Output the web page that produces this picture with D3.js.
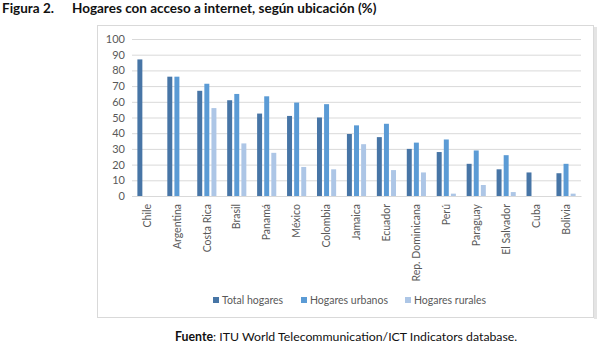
<!DOCTYPE html>
<html>
<head>
<meta charset="utf-8">
<script src="https://cdn.jsdelivr.net/npm/d3@7/dist/d3.min.js"></script>
<style>
  html, body { margin: 0; padding: 0; background: #fff; }
  svg { display: block; }
</style>
</head>
<body>
<svg id="chart" width="600" height="350"></svg>
<script>
// Hogares con acceso a internet por país (%)
const countries = ["Chile", "Argentina", "Costa Rica", "Brasil", "Panamá", "México", "Colombia",
  "Jamaica", "Ecuador", "Rep. Dominicana", "Perú", "Paraguay", "El Salvador", "Cuba", "Bolivia"];
const totalHogares   = [87, 76, 67, 61, 52.5, 51, 50, 39.5, 37.5, 30, 28, 20.5, 17, 15, 14.5];
const hogaresUrbanos = [null, 76, 71.5, 65, 63.5, 59.5, 58.5, 45, 46, 34, 36, 29, 26, null, 20.5];
const hogaresRurales = [null, null, 56, 33.5, 27.5, 18.5, 17, 33, 16.5, 15, 1.5, 7, 2.5, null, 1.5];
const seriesNames = ["Total hogares", "Hogares urbanos", "Hogares rurales"];
const yTicks = [0, 10, 20, 30, 40, 50, 60, 70, 80, 90, 100];

const colors = ["#4775A6", "#5B9BD5", "#ADC6E6"];
const series = [totalHogares, hogaresUrbanos, hogaresRurales];
const font = "Lato, 'Open Sans', sans-serif";

const svg = d3.select("#chart");

// Title
const title = svg.append("text").attr("x", 2).attr("y", 13)
  .attr("font-family", font).attr("font-weight", "bold").attr("font-size", 13.5).attr("fill", "#111");
title.append("tspan").text("Figura 2.");
title.append("tspan").attr("x", 72).text("Hogares con acceso a internet, según ubicación (%)");

// Chart frame with light shadow on the right
svg.append("rect").attr("x", 594).attr("y", 27).attr("width", 3).attr("height", 292).attr("fill", "#e4e4e4");
svg.append("rect").attr("x", 97.5).attr("y", 25.5).attr("width", 496).attr("height", 292)
  .attr("fill", "#fff").attr("stroke", "#d9d9d9").attr("stroke-width", 1);

const plot = { left: 132, right: 581, top: 39, bottom: 196 };

const x = d3.scaleBand().domain(countries).range([plot.left, plot.right]).paddingInner(0.36).paddingOuter(0.18);
const xs = d3.scaleBand().domain(d3.range(3)).range([0, x.bandwidth()]).paddingInner(0.3);
const y = d3.scaleLinear().domain([0, 100]).range([plot.bottom, plot.top]);

// Gridlines and y labels
const yAxis = d3.axisLeft(y).tickValues(yTicks).tickSize(-(plot.right - plot.left)).tickPadding(7);
const gy = svg.append("g").attr("transform", `translate(${plot.left},0)`).call(yAxis);
gy.select(".domain").remove();
gy.selectAll(".tick line").attr("stroke", "#d9d9d9").attr("stroke-width", 1);
gy.selectAll(".tick text").attr("font-family", font).attr("font-size", 11).attr("fill", "#595959");

// Bars
series.forEach((vals, si) => {
  svg.append("g").selectAll("rect")
    .data(countries.map((c, i) => ({ c, v: vals[i] })).filter(d => d.v != null))
    .join("rect")
    .attr("x", d => x(d.c) + xs(si))
    .attr("width", xs.bandwidth())
    .attr("y", d => y(d.v))
    .attr("height", d => y(0) - y(d.v))
    .attr("fill", colors[si]);
});

// X axis category labels
const xAxis = d3.axisBottom(x).tickSize(0).tickPadding(0);
const gx = svg.append("g").attr("transform", `translate(0,${plot.bottom})`).call(xAxis);
gx.select(".domain").attr("stroke", "#d9d9d9");
gx.selectAll(".tick text")
  .attr("font-family", font).attr("font-size", 10.5).attr("fill", "#595959")
  .attr("text-anchor", "end")
  .attr("transform", "rotate(-90)")
  .attr("x", -8).attr("y", 0).attr("dy", "0.35em");

// Legend
const legend = svg.append("g").attr("font-family", font).attr("font-size", 10.5).attr("fill", "#595959");
const legendX = [213, 301, 405];
seriesNames.forEach((name, i) => {
  legend.append("rect").attr("x", legendX[i]).attr("y", 297).attr("width", 6).attr("height", 6).attr("fill", colors[i]);
  legend.append("text").attr("x", legendX[i] + 9).attr("y", 304).attr("fill", "#595959").text(name);
});

// Source note
const src = svg.append("text").attr("x", 175).attr("y", 341)
  .attr("font-family", font).attr("font-size", 12.3).attr("fill", "#111");
src.append("tspan").attr("font-weight", "bold").text("Fuente");
src.append("tspan").text(": ITU World Telecommunication/ICT Indicators database.");
</script>
</body>
</html>
